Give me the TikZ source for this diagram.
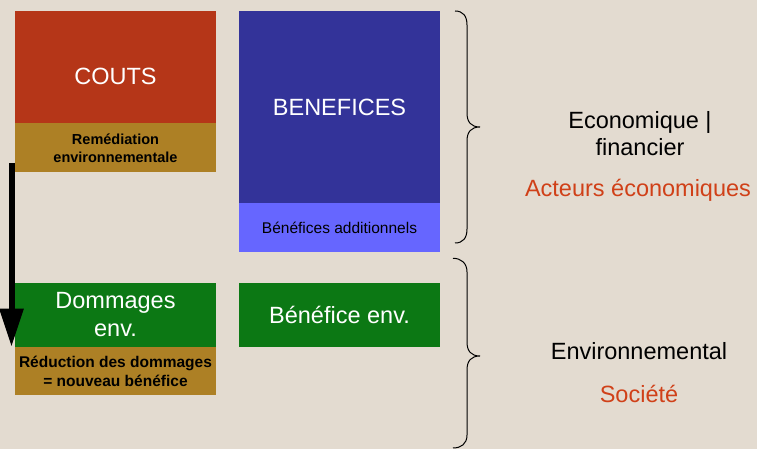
\documentclass[tikz,border=0pt]{standalone}
\usepackage{fontspec}
\setmainfont{Liberation Sans}
\usepackage{tikz}
\usetikzlibrary{arrows.meta, positioning}
\usepackage{xcolor}

\definecolor{fond}{HTML}{E3DBD0}
\definecolor{rouge}{HTML}{B53618}
\definecolor{ocre}{HTML}{AD8025}
\definecolor{bleu}{HTML}{333399}
\definecolor{bleuclair}{HTML}{6666FF}
\definecolor{vert}{HTML}{0C7814}
\definecolor{orange}{HTML}{D04018}

\begin{document}
\begin{tikzpicture}[
		box/.style={inner sep=0pt, minimum width=201pt, align=center},
		gros/.style={font=\fontsize{23.5}{28}\selectfont, text=white},
		gras/.style={font=\fontsize{14.5}{18}\selectfont\bfseries},
		cote/.style={font=\fontsize{23.5}{27.5}\selectfont, align=center},
		accolade/.style={line width=1pt}
	]
		\fill[fond] (0pt,0pt) rectangle (757pt,449pt);
		\useasboundingbox (0pt,0pt) rectangle (757pt,449pt);

		\draw (115.5pt,382pt) node[box, gros, fill=rouge, minimum height=112pt, text height=36pt, text depth=0pt] (couts) {COUTS}
		(339.5pt,342pt) node[box, gros, fill=bleu, minimum height=192pt] (benef) {BENEFICES}
		(115.5pt,134pt) node[box, gros, fill=vert, minimum height=64pt] (domm) {Dommages\\env.}
		(339.5pt,134pt) node[box, gros, fill=vert, minimum height=64pt] (benefenv) {Bénéfice env.};

		\node[box, gras, fill=ocre, minimum height=49pt, below=0pt of couts] (remed) {Remédiation\\environnementale};
		\node[box, font=\fontsize{15.5}{18}\selectfont, fill=bleuclair, minimum height=49pt, below=0pt of benef] (benefadd) {Bénéfices additionnels};
		\node[box, gras, font=\fontsize{15.5}{18.4}\selectfont\bfseries, fill=ocre, minimum height=48pt, below=0pt of domm] (reduc) {Réduction des dommages\\= nouveau bénéfice};

		\node[cote] (eco) at (640pt,315.5pt) {Economique |\\financier};
		\node[cote, text=orange, anchor=base] (acteurs) at (638pt,252.5pt) {Acteurs économiques};
		\node[cote, anchor=base] (envir) at (639pt,89pt) {Environnemental};
		\node[cote, text=orange, anchor=base] (societe) at (639pt,46pt) {Société};

		% fleche
		\coordinate (fhaut) at (11.5pt,286pt);
		\coordinate (fbas) at (11.5pt,102.3pt);
		\draw[line width=6pt, -{Triangle[width=23pt,length=38pt]}] (fhaut) -- (fbas);

		% accolades
		\draw[accolade] (455pt,438pt) .. controls (463pt,438pt) and (467pt,433pt) .. (467pt,424pt) -- (467pt,336pt)
		.. controls (467pt,327pt) and (471pt,322pt) .. (480pt,322pt)
		.. controls (471pt,322pt) and (467pt,317pt) .. (467pt,308pt) -- (467pt,220pt)
		.. controls (467pt,211pt) and (463pt,206pt) .. (455pt,206pt);
		\draw[accolade] (453pt,190.7pt) .. controls (461pt,190.7pt) and (467pt,186pt) .. (467pt,177pt) -- (467pt,107pt)
		.. controls (467pt,98pt) and (471pt,93pt) .. (480pt,93pt)
		.. controls (471pt,93pt) and (467pt,88pt) .. (467pt,79pt) -- (467pt,14pt)
		.. controls (467pt,5pt) and (461pt,1pt) .. (453pt,1pt);
	\end{tikzpicture}
\end{document}
